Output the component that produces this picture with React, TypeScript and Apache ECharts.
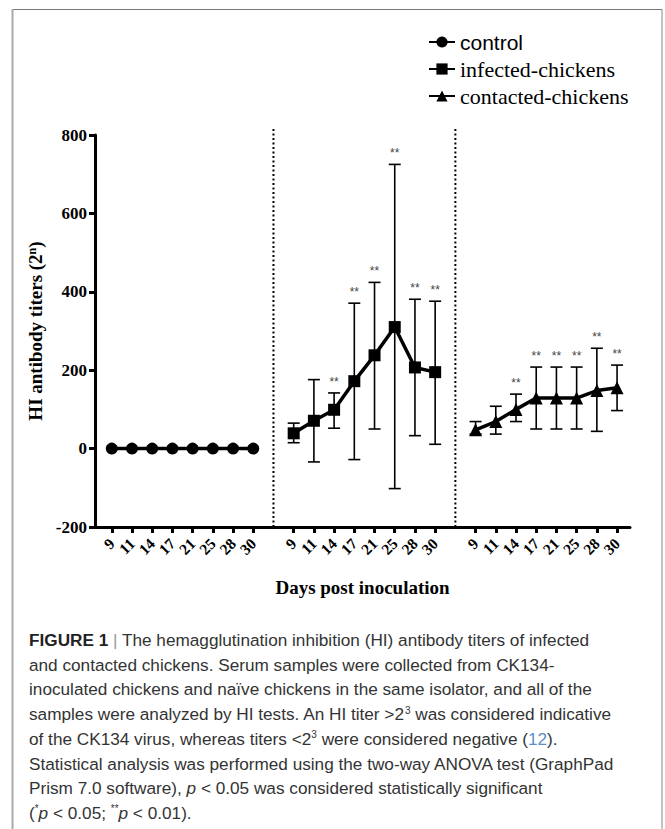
import React, { useEffect, useRef } from "react";
import * as echarts from "echarts";

const days = ["9", "11", "14", "17", "21", "25", "28", "30"];
const yTicks = [-200, 0, 200, 400, 600, 800];

const controlMean = [0, 0, 0, 0, 0, 0, 0, 0];

const infectedMean = [39, 71, 99, 172, 238, 310, 207, 195];
const infectedLow = [15, -34, 52, -28, 50, -102, 33, 11];
const infectedHigh = [65, 176, 142, 371, 424, 725, 381, 376];
const infectedSig = [0, 0, 1, 1, 1, 1, 1, 1];

const contactedMean = [48, 69, 100, 129, 129, 129, 148, 155];
const contactedLow = [37, 37, 69, 50, 50, 50, 44, 97];
const contactedHigh = [69, 108, 139, 208, 208, 208, 256, 213];
const contactedSig = [0, 0, 1, 1, 1, 1, 1, 1];

const groupOffsets = [0, 9, 18];
const separators = [8, 17];
const xMin = -0.83;
const xMax = 25.64;

const captionLines = [
  "{b|FIGURE 1} {bar||} The hemagglutination inhibition (HI) antibody titers of infected",
  "and contacted chickens. Serum samples were collected from CK134-",
  "inoculated chickens and naïve chickens in the same isolator, and all of the",
  "samples were analyzed by HI tests. An HI titer >2{sup|3} was considered indicative",
  "of the CK134 virus, whereas titers <2{sup|3} were considered negative ({link|12}).",
  "Statistical analysis was performed using the two-way ANOVA test (GraphPad",
  "Prism 7.0 software), {i|p} < 0.05 was considered statistically significant",
  "({sup|*}{i|p} < 0.05; {sup|**}{i|p} < 0.01).",
];

const SERIF = "'Liberation Serif', 'Times New Roman', serif";
const SANS = "'Liberation Sans', Arial, sans-serif";

export default function App() {
  const ref = useRef<HTMLDivElement>(null);

  useEffect(() => {
    if (!ref.current) return;
    const chart = echarts.init(ref.current, undefined, { renderer: "svg" });

    const toPts = (vals: number[], off: number) => vals.map((v, i) => [off + i, v]);
    const toErr = (lo: number[], hi: number[], sig: number[], off: number) =>
      lo.map((l, i) => [off + i, l, hi[i], sig[i]]);

    const errRender = (params: any, api: any) => {
      const x = api.value(0);
      const lo = api.value(1);
      const hi = api.value(2);
      const sig = api.value(3);
      const pLo = api.coord([x, lo]);
      const pHi = api.coord([x, hi]);
      const w = 6;
      const st = { stroke: "#000", lineWidth: 1.6 };
      const children: any[] = [
        { type: "line", shape: { x1: pHi[0], y1: pHi[1], x2: pLo[0], y2: pLo[1] }, style: st },
        { type: "line", shape: { x1: pHi[0] - w, y1: pHi[1], x2: pHi[0] + w, y2: pHi[1] }, style: st },
        { type: "line", shape: { x1: pLo[0] - w, y1: pLo[1], x2: pLo[0] + w, y2: pLo[1] }, style: st },
      ];
      if (sig) {
        children.push({
          type: "text",
          x: pHi[0],
          y: pHi[1] - 11,
          style: {
            text: "**",
            fill: "#444",
            font: "12px " + SANS,
            align: "center",
            verticalAlign: "middle",
          },
        });
      }
      return { type: "group", children };
    };

    const sepRender = (params: any, api: any) => {
      const x = api.value(0);
      const p1 = api.coord([x, -200]);
      const p2 = api.coord([x, 815]);
      return {
        type: "line",
        shape: { x1: p1[0], y1: p1[1], x2: p2[0], y2: p2[1] },
        style: { stroke: "#000", lineWidth: 2, lineDash: [2, 2.5] },
      };
    };

    const FS = 17.2;
    const captionStyleRich = {
      b: { fontFamily: SANS, fontSize: FS, fontWeight: "bold", fill: "#222", lineHeight: 20 },
      bar: { fontFamily: SANS, fontSize: FS, fill: "#999", lineHeight: 20 },
      sup: { fontFamily: SANS, fontSize: 10, fill: "#333", lineHeight: 20, verticalAlign: "top", padding: [1, 0, 0, 0] },
      link: { fontFamily: SANS, fontSize: FS, fill: "#5b8fc8", lineHeight: 20 },
      i: { fontFamily: SANS, fontSize: FS, fontStyle: "italic", fill: "#333", lineHeight: 20 },
    };

    const graphics: any[] = [
      { type: "line", shape: { x1: 12, y1: 9.5, x2: 662, y2: 9.5 }, style: { stroke: "#777", lineWidth: 1 } },
      { type: "line", shape: { x1: 12.5, y1: 9, x2: 12.5, y2: 829 }, style: { stroke: "#aaa", lineWidth: 2 } },
      { type: "line", shape: { x1: 662, y1: 9, x2: 662, y2: 829 }, style: { stroke: "#888", lineWidth: 1 } },
    ];
    captionLines.forEach((line, k) => {
      graphics.push({
        type: "text",
        x: 29,
        y: 640 + k * 24.7,
        style: {
          text: line,
          fontFamily: SANS,
          fontSize: FS,
          fill: "#333",
          lineHeight: 20,
          verticalAlign: "middle",
          rich: captionStyleRich,
        },
      });
    });

    const ticks = groupOffsets.flatMap((o) => days.map((_, i) => o + i));
    // dummy end labels (hidden) so every real day label is shown
    const labelValues = [xMin, ...ticks, xMax];

    const option: any = {
      animation: false,
      backgroundColor: "#fff",
      grid: { left: 95, right: 35, top: 135, bottom: 302 },
      legend: {
        orient: "vertical",
        left: 423,
        top: 26,
        itemWidth: 26,
        itemHeight: 14,
        itemGap: 5,
        textStyle: { fontSize: 22, color: "#000", fontFamily: SERIF, lineHeight: 22 },
        data: [
          { name: "control", textStyle: { fontFamily: SANS, fontSize: 21 } },
          { name: "infected-chickens" },
          { name: "contacted-chickens" },
        ],
      },
      xAxis: {
        type: "value",
        min: xMin,
        max: xMax,
        name: "Days post inoculation",
        nameLocation: "middle",
        nameGap: 51,
        nameTextStyle: { fontFamily: SERIF, fontWeight: "bold", fontSize: 19, color: "#000" },
        splitLine: { show: false },
        axisLine: { show: true, onZero: false, lineStyle: { color: "#000", width: 3 } },
        axisTick: {
          show: true,
          length: 6,
          lineStyle: { color: "#000", width: 3 },
          customValues: ticks,
        },
        axisLabel: {
          rotate: 45,
          margin: 14,
          fontFamily: SERIF,
          fontWeight: "bold",
          fontSize: 15.5,
          lineHeight: 11,
          color: "#000",
          showMinLabel: false,
          showMaxLabel: false,
          hideOverlap: false,
          customValues: labelValues,
          formatter: (v: number) => (Number.isInteger(v) ? days[v % 9] ?? "" : ""),
        },
      },
      yAxis: {
        type: "value",
        min: yTicks[0],
        max: yTicks[yTicks.length - 1],
        interval: 200,
        name: "HI antibody titers (2{sup|n})",
        nameLocation: "middle",
        nameGap: 26,
        nameTextStyle: {
          fontFamily: SERIF,
          fontWeight: "bold",
          fontSize: 19,
          color: "#000",
          rich: {
            sup: { fontFamily: SERIF, fontWeight: "bold", fontSize: 12, color: "#000", verticalAlign: "top" },
          },
        },
        splitLine: { show: false },
        axisLine: { show: true, onZero: false, lineStyle: { color: "#000", width: 3 } },
        axisTick: { show: true, length: 6, lineStyle: { color: "#000", width: 3 } },
        axisLabel: { margin: 8, fontFamily: SERIF, fontWeight: "bold", fontSize: 17, color: "#000" },
      },
      graphic: graphics,
      series: [
        {
          type: "custom",
          name: "sep",
          renderItem: sepRender,
          data: separators.map((s) => [s]),
          clip: false,
          silent: true,
          z: 1,
        },
        {
          type: "custom",
          name: "infErr",
          renderItem: errRender,
          data: toErr(infectedLow, infectedHigh, infectedSig, groupOffsets[1]),
          clip: false,
          z: 2,
        },
        {
          type: "custom",
          name: "conErr",
          renderItem: errRender,
          data: toErr(contactedLow, contactedHigh, contactedSig, groupOffsets[2]),
          clip: false,
          z: 2,
        },
        {
          type: "line",
          name: "control",
          data: toPts(controlMean, groupOffsets[0]),
          symbol: "circle",
          symbolSize: 12,
          itemStyle: { color: "#000" },
          lineStyle: { color: "#000", width: 3.5 },
          z: 3,
        },
        {
          type: "line",
          name: "infected-chickens",
          data: toPts(infectedMean, groupOffsets[1]),
          symbol: "rect",
          symbolSize: 12,
          itemStyle: { color: "#000" },
          lineStyle: { color: "#000", width: 3.5 },
          z: 3,
        },
        {
          type: "line",
          name: "contacted-chickens",
          data: toPts(contactedMean, groupOffsets[2]),
          symbol: "triangle",
          symbolSize: 13,
          itemStyle: { color: "#000" },
          lineStyle: { color: "#000", width: 3.5 },
          z: 3,
        },
      ],
    };

    chart.setOption(option);
    return () => chart.dispose();
  }, []);

  return (
    <div
      ref={ref}
      style={{ position: "absolute", left: 0, top: 0, width: 665, height: 829, background: "#fff" }}
    />
  );
}
